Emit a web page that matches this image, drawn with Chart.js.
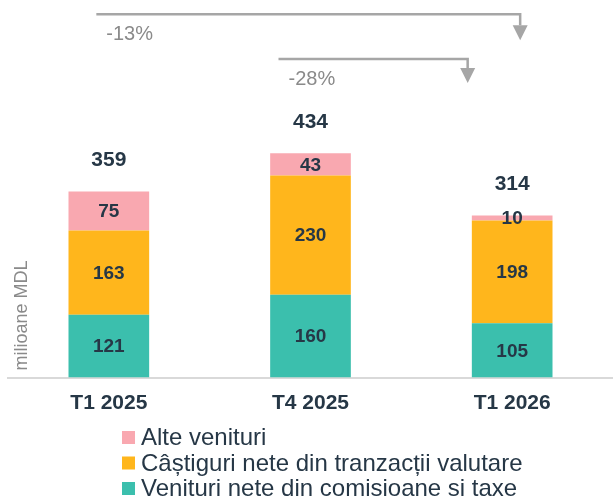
<!DOCTYPE html>
<html>
<head>
<meta charset="utf-8">
<script src="https://cdn.jsdelivr.net/npm/chart.js@4"></script>
<style>
  html, body { margin: 0; padding: 0; background: #fff; }
</style>
</head>
<body>
<canvas id="myChart" width="613" height="497"></canvas>
<script>
const categories = ["T1 2025", "T4 2025", "T1 2026"];
const comisioane = [121, 160, 105];
const valutare = [163, 230, 198];
const alteVenituri = [75, 43, 10];
const totals = [359, 434, 314];
const seriesNames = [
  "Venituri nete din comisioane si taxe",
  "Câștiguri nete din tranzacții valutare",
  "Alte venituri",
];
const seriesColors = ["#3bbfad", "#ffb61c", "#f9a8b0"];
const changeFrom = [0, 1];
const changeTo = [2, 2];
const changeLabels = ["-13%", "-28%"];

const FONT = "'Liberation Sans', Arial, sans-serif";
const DARK = "#263746";
const GREY = "#8a8a8a";

// values inside segments + totals on top
const labelsPlugin = {
  id: "labelsPlugin",
  afterDatasetsDraw(chart) {
    const ctx = chart.ctx;
    ctx.save();
    ctx.fillStyle = DARK;
    ctx.textAlign = "center";
    ctx.textBaseline = "middle";
    ctx.font = "bold 19px " + FONT;
    let tops = [];
    chart.data.datasets.forEach((ds, i) => {
      let meta = chart.getDatasetMeta(i);
      meta.data.forEach((bar, j) => {
        ctx.fillText(ds.data[j], bar.x, (bar.y + bar.base) / 2 + 1);
        if (tops[j] === undefined || bar.y < tops[j]) tops[j] = bar.y;
      });
    });
    ctx.font = "bold 21px " + FONT;
    let xScale = chart.scales.x;
    for (let j = 0; j < categories.length; j++) {
      ctx.fillText(totals[j], xScale.getPixelForValue(j), tops[j] - 31.5);
    }
    ctx.restore();
  },
};

// change arrows at the top
const arrowsPlugin = {
  id: "arrowsPlugin",
  afterDraw(chart) {
    const ctx = chart.ctx;
    let xScale = chart.scales.x;
    let rows = [
      { y: 14.3, drop: 11, startOff: -12.5, endOff: 8 },
      { y: 59, drop: 9, startOff: -32, endOff: -44.5 },
    ];
    ctx.save();
    ctx.strokeStyle = "#a6a6a6";
    ctx.fillStyle = "#a6a6a6";
    ctx.lineWidth = 2.5;
    for (let i = 0; i < changeLabels.length; i++) {
      let r = rows[i];
      let x1 = xScale.getPixelForValue(changeFrom[i]) + r.startOff;
      let x2 = xScale.getPixelForValue(changeTo[i]) + r.endOff;
      ctx.beginPath();
      ctx.moveTo(x1, r.y);
      ctx.lineTo(x2, r.y);
      ctx.lineTo(x2, r.y + r.drop);
      ctx.stroke();
      ctx.beginPath();
      ctx.moveTo(x2 - 7.5, r.y + r.drop);
      ctx.lineTo(x2 + 7.5, r.y + r.drop);
      ctx.lineTo(x2, r.y + r.drop + 15);
      ctx.closePath();
      ctx.fill();
      ctx.fillStyle = GREY;
      ctx.font = "20px " + FONT;
      ctx.textAlign = "left";
      ctx.textBaseline = "middle";
      ctx.fillText(changeLabels[i], x1 + 10, r.y + 20);
      ctx.fillStyle = "#a6a6a6";
    }
    ctx.restore();
  },
};

// y title and legend
const extrasPlugin = {
  id: "extrasPlugin",
  afterDraw(chart) {
    const ctx = chart.ctx;
    let area = chart.chartArea;
    ctx.save();
    ctx.translate(22, area.bottom - 7);
    ctx.rotate(-Math.PI / 2);
    ctx.fillStyle = GREY;
    ctx.font = "18px " + FONT;
    ctx.textAlign = "left";
    ctx.textBaseline = "middle";
    ctx.fillText("milioane MDL", 0, 0);
    ctx.restore();

    ctx.save();
    ctx.font = "24px " + FONT;
    ctx.textBaseline = "middle";
    ctx.textAlign = "left";
    let order = [2, 1, 0];
    for (let k = 0; k < order.length; k++) {
      let ds = chart.data.datasets[order[k]];
      let y = area.bottom + 60 + k * 25.5;
      ctx.fillStyle = ds.backgroundColor;
      ctx.fillRect(122, y - 6.5, 13, 13);
      ctx.fillStyle = DARK;
      ctx.fillText(ds.label, 141, y + 1);
    }
    ctx.restore();
  },
};

const ctx = document.getElementById("myChart");

new Chart(ctx, {
  type: "bar",
  data: {
    labels: categories,
    datasets: [
      { label: seriesNames[0], data: comisioane, backgroundColor: seriesColors[0] },
      { label: seriesNames[1], data: valutare, backgroundColor: seriesColors[1] },
      { label: seriesNames[2], data: alteVenituri, backgroundColor: seriesColors[2] },
    ],
  },
  options: {
    responsive: false,
    animation: false,
    datasets: {
      bar: {
        barPercentage: 1,
        categoryPercentage: 0.4,
        borderWidth: 0,
      },
    },
    layout: {
      padding: { top: 87.5, left: 8, right: 0, bottom: 68.3 },
    },
    scales: {
      x: {
        stacked: true,
        grid: { display: false, drawTicks: false },
        border: { color: "#d9d9d9", width: 2 },
        ticks: {
          padding: 13,
          color: DARK,
          font: { family: FONT, size: 21, weight: "bold" },
        },
      },
      y: {
        stacked: true,
        display: false,
        min: 0,
        max: 560,
      },
    },
    plugins: {
      legend: { display: false },
      tooltip: { enabled: false },
    },
  },
  plugins: [labelsPlugin, arrowsPlugin, extrasPlugin],
});
</script>
</body>
</html>
